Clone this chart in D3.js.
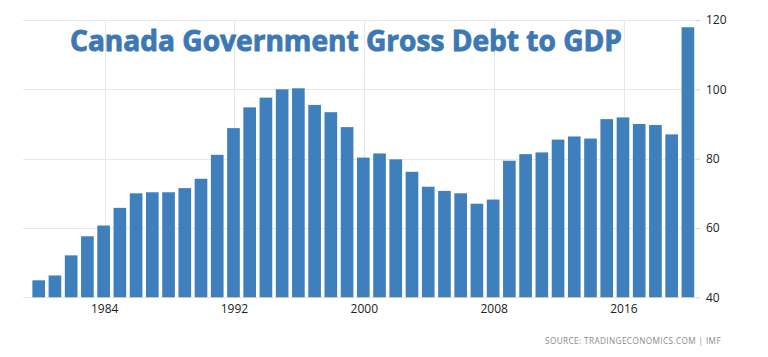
<!DOCTYPE html>
<html>
<head>
<meta charset="utf-8">
<script src="https://cdn.jsdelivr.net/npm/d3@7"></script>
<style>
  body { margin: 0; background: #fff; }
  svg { display: block; }
</style>
</head>
<body>
<div id="chart"></div>
<script>
// Canada government gross debt to GDP (%), yearly
const years = d3.range(1980, 2021);
const debt = [
  44.9, 46.3, 52.1, 57.6, 60.7, 65.8, 70.0, 70.3, 70.3, 71.5,
  74.2, 81.1, 88.8, 94.8, 97.6, 100.0, 100.3, 95.5, 93.4, 89.1,
  80.3, 81.5, 79.8, 76.2, 71.9, 70.7, 70.0, 67.0, 68.2, 79.4,
  81.3, 81.8, 85.5, 86.4, 85.8, 91.4, 91.9, 90.0, 89.7, 87.0,
  117.9
];
const yTicks = [40, 60, 80, 100, 120];
const xTicks = [1984, 1992, 2000, 2008, 2016];

const width = 768, height = 357;
const plot = { left: 23, right: 696, top: 20, bottom: 297.3 };

const svg = d3.select("#chart")
  .append("svg")
  .attr("width", width)
  .attr("height", height);

const x = d3.scaleBand()
  .domain(years)
  .range([30.6, 696])
  .paddingInner(0.22)
  .paddingOuter(0.11);

const y = d3.scaleLinear()
  .domain([40, 120])
  .range([plot.bottom, plot.top]);

// horizontal grid
svg.append("g")
  .selectAll("line")
  .data(yTicks)
  .join("line")
  .attr("x1", plot.left)
  .attr("x2", plot.right)
  .attr("y1", d => Math.round(y(d)) + 0.5)
  .attr("y2", d => Math.round(y(d)) + 0.5)
  .attr("stroke", "#e8e8e8");

// vertical grid
svg.append("g")
  .selectAll("line")
  .data(xTicks)
  .join("line")
  .attr("x1", d => Math.round(x(d) + x.bandwidth() / 2 + 1) + 0.5)
  .attr("x2", d => Math.round(x(d) + x.bandwidth() / 2 + 1) + 0.5)
  .attr("y1", plot.top)
  .attr("y2", plot.bottom)
  .attr("stroke", "#e8e8e8");

// bars
svg.append("g")
  .selectAll("rect")
  .data(years)
  .join("rect")
  .attr("x", d => x(d))
  .attr("width", x.bandwidth())
  .attr("y", (d, i) => y(debt[i]))
  .attr("height", (d, i) => y(40) - y(debt[i]))
  .attr("fill", "#3f7fbc");

// right axis
const yAxis = svg.append("g")
  .attr("transform", `translate(${plot.right},0)`)
  .call(d3.axisRight(y).tickValues(yTicks).tickSize(4).tickPadding(6));
yAxis.select(".domain").remove();
yAxis.selectAll("line").attr("stroke", "#cfcfcf");
yAxis.selectAll("text")
  .style("font-family", "'Open Sans', sans-serif")
  .style("font-size", "12px")
  .attr("fill", "#222");

// bottom axis labels
const xAxis = svg.append("g")
  .attr("transform", `translate(1,${plot.bottom})`)
  .call(d3.axisBottom(x).tickValues(xTicks).tickSize(0).tickPadding(7));
xAxis.select(".domain").remove();
xAxis.selectAll("text")
  .style("font-family", "'Open Sans', sans-serif")
  .style("font-size", "12px")
  .attr("fill", "#222");

// title (stroked a little to get the heavy look)
svg.append("text")
  .attr("x", 70)
  .attr("y", 51)
  .attr("textLength", 552)
  .attr("lengthAdjust", "spacingAndGlyphs")
  .style("font-family", "'Open Sans', sans-serif")
  .style("font-weight", "bold")
  .style("font-size", "29px")
  .attr("fill", "#3c78b4")
  .attr("stroke", "#3c78b4")
  .attr("stroke-width", 0.9)
  .text("Canada Government Gross Debt to GDP");

// source
svg.append("text")
  .attr("x", 545)
  .attr("y", 344)
  .attr("textLength", 176)
  .attr("lengthAdjust", "spacingAndGlyphs")
  .style("font-family", "'Open Sans', sans-serif")
  .style("font-size", "8.5px")
  .style("letter-spacing", "0.4px")
  .attr("fill", "#8a8a8a")
  .text("SOURCE:  TRADINGECONOMICS.COM  |  IMF");
</script>
</body>
</html>
